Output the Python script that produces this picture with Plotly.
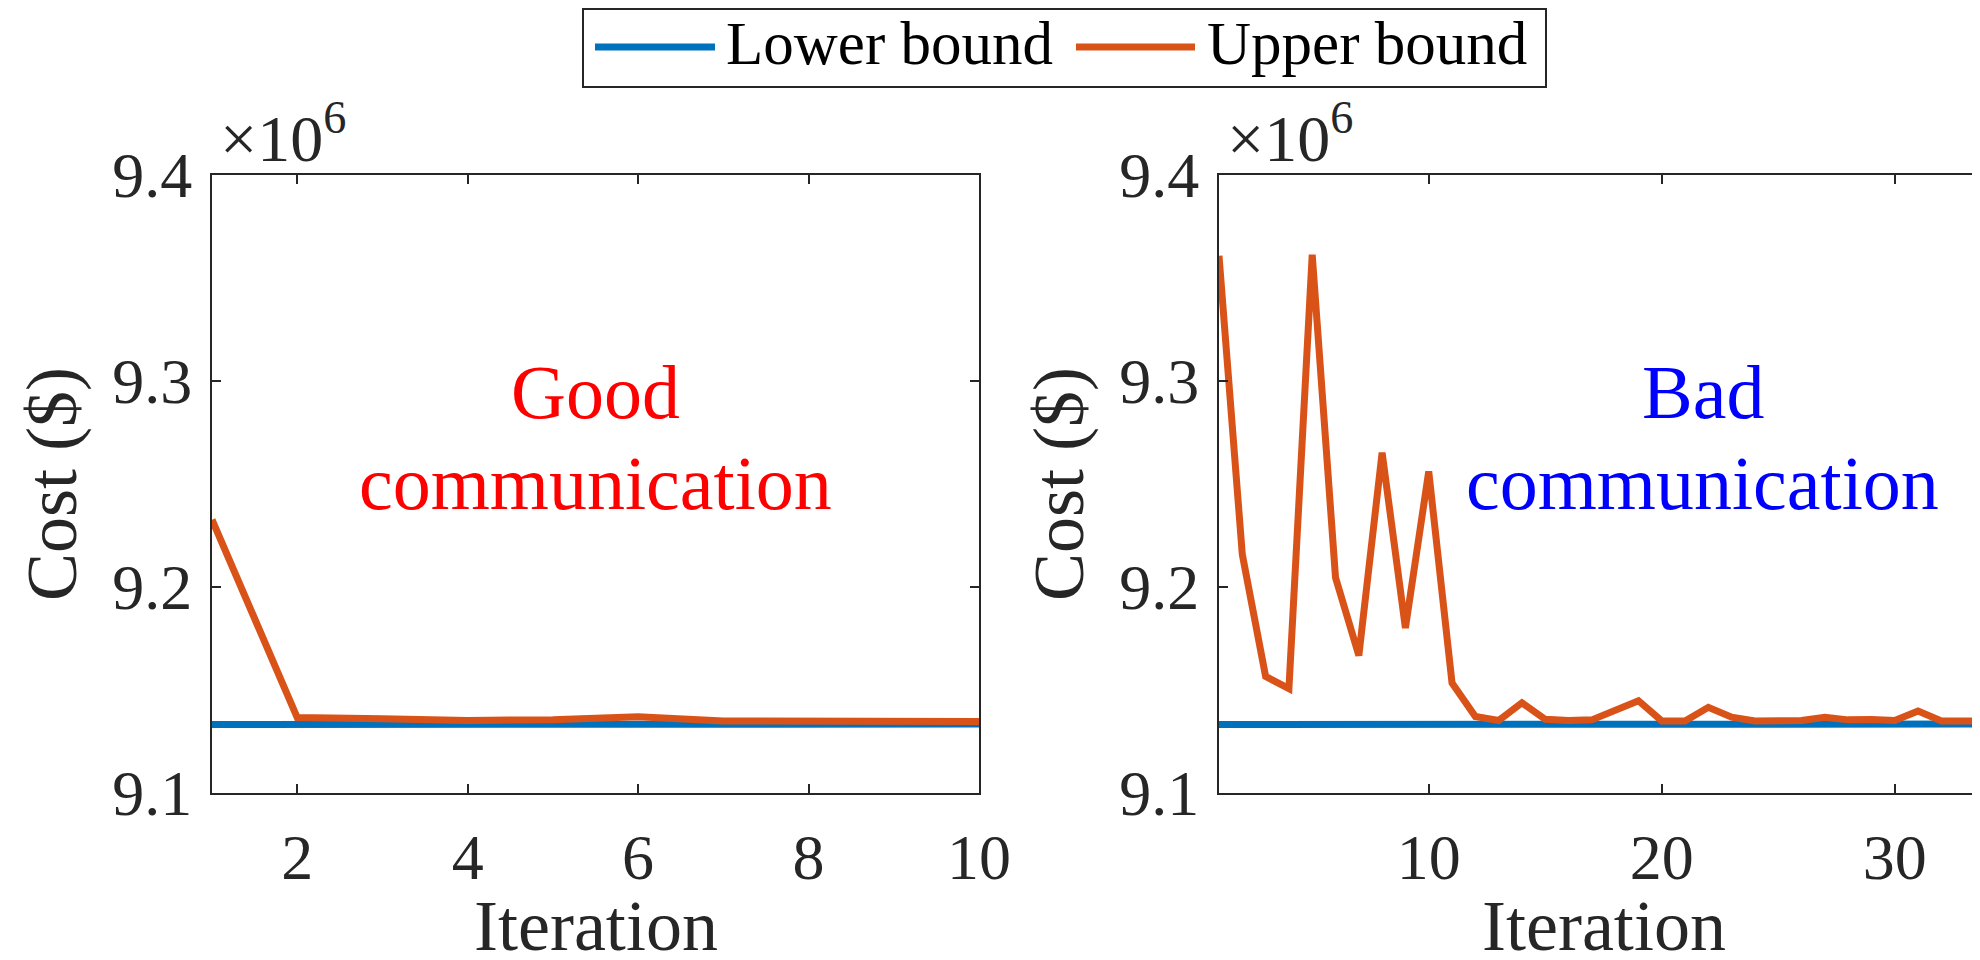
import plotly.graph_objects as go
from plotly.subplots import make_subplots

# ---- data (cost in units of 10^6 $) ----
iter_good = [1, 2, 3, 4, 5, 6, 7, 8, 9, 10]
lower_good = [9.1332, 9.1332, 9.1332, 9.1332, 9.1332, 9.1332, 9.1332, 9.1332, 9.1332, 9.1335]
upper_good = [9.2327, 9.1366, 9.1360, 9.1352, 9.1356, 9.1370, 9.1350, 9.1350, 9.1350, 9.1347]

iter_bad = list(range(1, 35))
lower_bad = [9.1332] * 20 + [9.1331] * 9 + [9.1333, 9.1331, 9.1330, 9.1331, 9.1335]
upper_bad = [9.3608, 9.2158, 9.1566, 9.1507, 9.3613, 9.2046, 9.1667, 9.2652, 9.1801, 9.2561,
             9.1534, 9.1371, 9.1352, 9.1438, 9.1358, 9.1352, 9.1355, 9.1398, 9.1448, 9.1350,
             9.1350, 9.1416, 9.1368, 9.1350, 9.1350, 9.1352, 9.1368, 9.1355, 9.1357, 9.1352,
             9.1398, 9.1350, 9.1350, 9.1350]

y_ticks = [9.1, 9.2, 9.3, 9.4]
y_ticktext = ["9.1", "9.2", "9.3", "9.4"]
x_ticks_good = [2, 4, 6, 8, 10]
x_ticks_bad = [10, 20, 30]
series_names = ["Lower bound", "Upper bound"]

BLUE = "#0072BD"
ORANGE = "#D95319"
AX = "#262626"
FONT = "Liberation Serif, DejaVu Serif, serif"
LW = 7

W, H = 1980, 960
px = lambda v: v / W
py = lambda v: 1 - v / H

fig = make_subplots(rows=1, cols=2)

fig.add_trace(go.Scatter(x=iter_good, y=lower_good, mode="lines", name=series_names[0],
                         line=dict(color=BLUE, width=LW)), row=1, col=1)
fig.add_trace(go.Scatter(x=iter_good, y=upper_good, mode="lines", name=series_names[1],
                         line=dict(color=ORANGE, width=LW)), row=1, col=1)
fig.add_trace(go.Scatter(x=iter_bad, y=lower_bad, mode="lines", name=series_names[0],
                         line=dict(color=BLUE, width=LW)), row=1, col=2)
fig.add_trace(go.Scatter(x=iter_bad, y=upper_bad, mode="lines", name=series_names[1],
                         line=dict(color=ORANGE, width=LW)), row=1, col=2)

ydom = [py(785), py(167)]
common_ax = dict(showgrid=False, zeroline=False, showline=True, linecolor=AX, linewidth=2,
                 ticks="inside", ticklen=9, tickwidth=2, tickcolor=AX, mirror="ticks",
                 tickfont=dict(family=FONT, size=64, color=AX), automargin=False)

fig.update_xaxes(common_ax, row=1, col=1, domain=[px(204), px(971)], range=[1, 10],
                 tickvals=x_ticks_good, ticklabelstandoff=7)
fig.update_xaxes(common_ax, row=1, col=2, domain=[px(1211), 1.0], range=[1, 34],
                 tickvals=x_ticks_bad, ticklabelstandoff=7)
for c in (1, 2):
    fig.update_yaxes(common_ax, row=1, col=c, domain=ydom, range=[9.1, 9.4],
                     tickvals=y_ticks, ticktext=y_ticktext, ticklabelstandoff=5,
                     title=dict(text="Cost ($)", font=dict(family=FONT, size=72, color=AX), standoff=12))

# x-axis titles and exponent labels
for xr in ("x domain", "x2 domain"):
    fig.add_annotation(text="Iteration", xref=xr, yref="paper", x=0.5, y=py(918),
                       xanchor="center", yanchor="middle", showarrow=False,
                       font=dict(family=FONT, size=72, color=AX))
    fig.add_annotation(text="×10<sup>6</sup>", xref=xr, yref="paper", x=6 / 768, y=py(125),
                       xanchor="left", yanchor="middle", showarrow=False,
                       font=dict(family=FONT, size=66, color=AX))

# panel annotations
fig.add_annotation(text="Good", xref="x", yref="y", x=5.5, y=9.2946, showarrow=False,
                   font=dict(family=FONT, size=76, color="#FF0000"))
fig.add_annotation(text="communication", xref="x", yref="y", x=5.5, y=9.2506, showarrow=False,
                   font=dict(family=FONT, size=76, color="#FF0000"))
fig.add_annotation(text="Bad", xref="x2", yref="y2", x=21.75, y=9.2946, showarrow=False,
                   font=dict(family=FONT, size=76, color="#0000FF"))
fig.add_annotation(text="communication", xref="x2", yref="y2", x=21.75, y=9.2506, showarrow=False,
                   font=dict(family=FONT, size=76, color="#0000FF"))

# legend box drawn in paper coordinates (long line samples like the reference)
fig.add_shape(type="rect", xref="paper", yref="paper", x0=px(575), x1=px(1538), y0=py(79), y1=py(1),
              line=dict(color=AX, width=2), fillcolor="white", layer="above")
for (x0, x1, tx, col, name) in [(587, 707, 716, BLUE, series_names[0]),
                                (1068, 1187, 1197, ORANGE, series_names[1])]:
    fig.add_shape(type="line", xref="paper", yref="paper", x0=px(x0), x1=px(x1), y0=py(39), y1=py(39),
                  line=dict(color=col, width=LW), layer="above")
    fig.add_annotation(text=name, xref="paper", yref="paper", x=px(tx), y=py(35),
                       xanchor="left", yanchor="middle", showarrow=False,
                       font=dict(family=FONT, size=61, color="black"))

fig.update_layout(
    width=W, height=H, margin=dict(l=0, r=0, t=0, b=0),
    paper_bgcolor="white", plot_bgcolor="white",
    showlegend=False,
)

fig.write_html("out.html")
